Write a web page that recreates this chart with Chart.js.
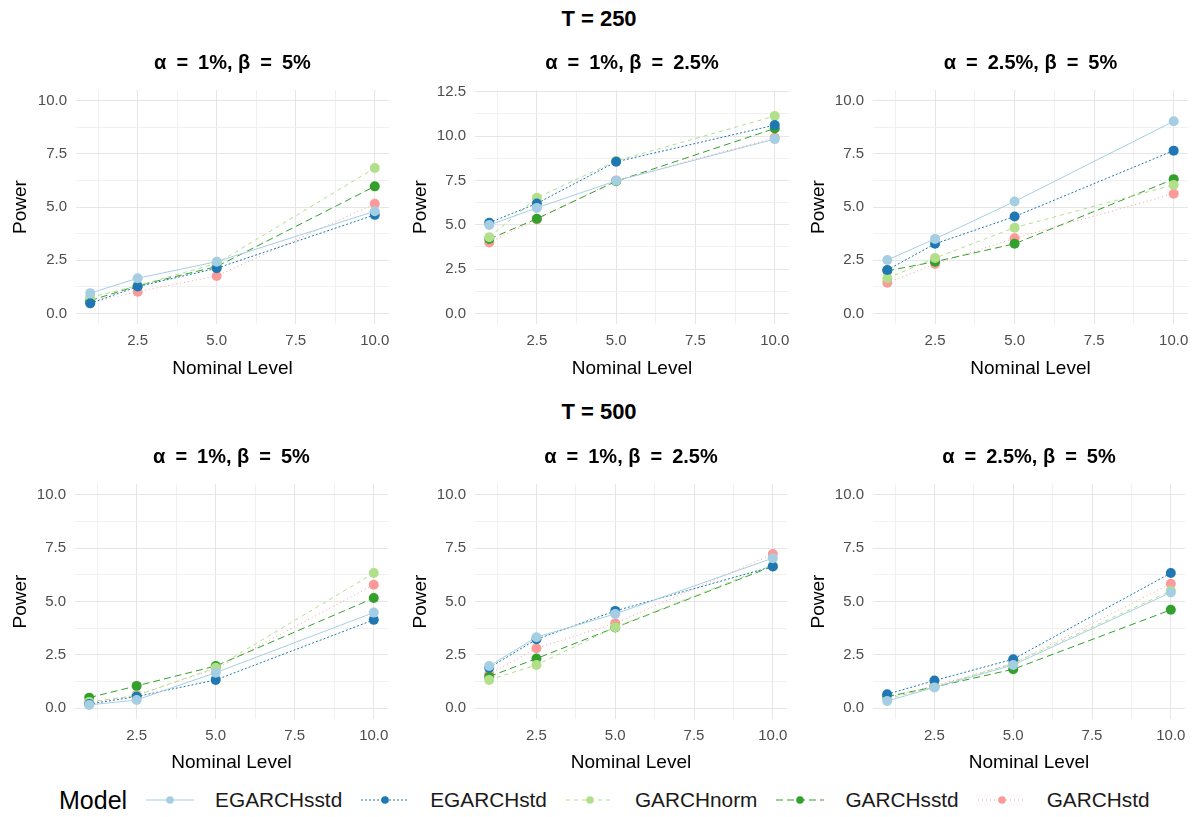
<!DOCTYPE html>
<html lang="en">
<head>
<meta charset="UTF-8">
<title>Power by nominal level</title>
<style>
  body { margin: 0; background: #fff; font-family: "Liberation Sans", Arial, sans-serif; }
  #page { position: relative; width: 1198px; height: 817px; overflow: hidden; }
  .heading { position: absolute; left: 0; width: 1198px; text-align: center; font-weight: bold;
             font-size: 22px; line-height: 26px; color: #000; }
  canvas { position: absolute; }
  #legend { position: absolute; left: 59px; top: 783px; height: 34px; display: flex; align-items: center; color: #1a1a1a; }
  #legend .name { font-size: 25px; margin-right: 19px; color: #000; }
  #legend .key { width: 48px; height: 20px; margin-right: 21px; }
  #legend .text { font-size: 20.8px; margin-right: 19px; }
</style>
</head>
<body>
<div id="page">
  <div class="heading" style="top:6px">T = 250</div>
  <div class="heading" style="top:399px">T = 500</div>
  <div id="legend"><span class="name">Model</span></div>
</div>

<script src="https://cdn.jsdelivr.net/npm/chart.js@4.4.7/dist/chart.umd.min.js"></script>
<script>
// データ
const levels = [1, 2.5, 5, 10];
const models = ['EGARCHsstd', 'EGARCHstd', 'GARCHnorm', 'GARCHsstd', 'GARCHstd'];
const panelTitles = ['α\u2002=\u20021%, β\u2002=\u20025%', 'α\u2002=\u20021%, β\u2002=\u20022.5%', 'α\u2002=\u20022.5%, β\u2002=\u20025%'];
const xTicks = [2.5, 5, 7.5, 10];
const yTicks10 = [0, 2.5, 5, 7.5, 10];
const yTicks125 = [0, 2.5, 5, 7.5, 10, 12.5];

// rows follow the order of models
const t250A1B5 = [
  [0.95, 1.65, 2.43, 4.8],
  [0.47, 1.26, 2.12, 4.63],
  [0.75, 1.3, 2.35, 6.83],
  [0.6, 1.3, 2.2, 5.97],
  [0.5, 1.02, 1.76, 5.15]
];
const t250A1B25 = [
  [4.98, 5.95, 7.48, 9.83],
  [5.11, 6.2, 8.55, 10.62],
  [4.3, 6.52, 8.6, 11.13],
  [4.19, 5.34, 7.45, 10.43],
  [4.0, 5.3, 7.5, 9.9]
];
const t250A25B5 = [
  [2.51, 3.5, 5.26, 9.03],
  [2.04, 3.27, 4.55, 7.65],
  [1.65, 2.6, 4.03, 6.04],
  [2.0, 2.43, 3.27, 6.31],
  [1.44, 2.32, 3.53, 5.62]
];
const t500A1B5 = [
  [0.16, 0.39, 1.67, 4.48],
  [0.2, 0.55, 1.33, 4.14],
  [0.3, 0.6, 1.9, 6.33],
  [0.5, 1.05, 1.98, 5.16],
  [0.25, 0.63, 1.85, 5.78]
];
const t500A1B25 = [
  [1.98, 3.33, 4.42, 7.03],
  [1.9, 3.23, 4.56, 6.64],
  [1.33, 2.03, 3.8, 6.7],
  [1.48, 2.33, 3.78, 6.65],
  [1.6, 2.81, 3.98, 7.22]
];
const t500A25B5 = [
  [0.34, 0.98, 2.03, 5.42],
  [0.66, 1.3, 2.3, 6.33],
  [0.45, 1.0, 2.1, 5.5],
  [0.55, 1.0, 1.83, 4.61],
  [0.5, 1.05, 2.1, 5.83]
];

// 見た目
const FONT = '"Liberation Sans", Arial, sans-serif';
const colors = ['#a6cee3', '#1f78b4', '#b2df8a', '#33a02c', '#fb9a99'];
const dashes = [[], [2, 2], [4, 4], [7, 4], [1, 3]];

// add minor ticks halfway between the major ones
function withMinor(major) {
  const out = [];
  major.forEach((v, i) => {
    const step = i > 0 ? v - major[i - 1] : major[1] - major[0];
    out.push(v - step / 2, v);
  });
  return out;
}
const isMajor = (v, major) => major.some(m => Math.abs(m - v) < 1e-6);

const panels = [
  { rows: t250A1B5, title: panelTitles[0], yTicks: yTicks10, left: 0, top: 40, w: 398, yw: 76, pr: 9, xh: 56 },
  { rows: t250A1B25, title: panelTitles[1], yTicks: yTicks125, left: 400, top: 40, w: 398, yw: 75, pr: 9, xh: 56 },
  { rows: t250A25B5, title: panelTitles[2], yTicks: yTicks10, left: 798, top: 40, w: 400, yw: 75, pr: 10, xh: 56 },
  { rows: t500A1B5, title: panelTitles[0], yTicks: yTicks10, left: 0, top: 434, w: 398, yw: 75, pr: 10, xh: 55 },
  { rows: t500A1B25, title: panelTitles[1], yTicks: yTicks10, left: 400, top: 434, w: 398, yw: 75, pr: 11, xh: 55 },
  { rows: t500A25B5, title: panelTitles[2], yTicks: yTicks10, left: 798, top: 434, w: 400, yw: 75, pr: 13, xh: 55 }
];

const page = document.getElementById('page');

panels.forEach(p => {
  const canvas = document.createElement('canvas');
  canvas.width = p.w;
  canvas.height = 340;
  canvas.style.left = p.left + 'px';
  canvas.style.top = p.top + 'px';
  page.appendChild(canvas);

  // ggplot style: limits 0..max(10, ceil(data)) with 5% expansion
  const yTop = Math.max(10, Math.ceil(Math.max(...p.rows.flat())));
  const yPad = yTop * 0.05;
  const xPad = (levels[levels.length - 1] - levels[0]) * 0.05;
  const xGrid = withMinor(xTicks);
  const yGrid = withMinor(p.yTicks).filter(v => v >= -yPad && v <= yTop + yPad);

  const gridColor = major => ctx => isMajor(ctx.tick.value, major) ? '#e6e6e6' : '#f0f0f0';

  new Chart(canvas, {
    type: 'line',
    data: {
      datasets: models.map((m, i) => ({
        label: m,
        data: levels.map((x, j) => ({ x: x, y: p.rows[i][j] })),
        borderColor: colors[i],
        backgroundColor: colors[i],
        borderWidth: 1,
        borderDash: dashes[i],
        pointRadius: 5,
        pointBorderWidth: 0,
        pointHoverRadius: 5,
        tension: 0
      }))
    },
    options: {
      responsive: false,
      animation: false,
      devicePixelRatio: 1,
      events: [],
      layout: { padding: { left: 0, right: p.pr, top: 0, bottom: 0 } },
      plugins: {
        legend: { display: false },
        tooltip: { enabled: false },
        title: {
          display: true,
          text: p.title,
          fullSize: false,
          color: '#000',
          font: { family: FONT, size: 20, weight: 'bold' },
          padding: { top: 11, bottom: 15 }
        }
      },
      scales: {
        x: {
          type: 'linear',
          min: levels[0] - xPad,
          max: levels[levels.length - 1] + xPad,
          border: { display: false },
          grid: { color: gridColor(xTicks), lineWidth: 1, drawTicks: false },
          afterBuildTicks: ax => { ax.ticks = xGrid.map(v => ({ value: v })); },
          ticks: {
            autoSkip: false,
            maxRotation: 0,
            padding: 8,
            color: '#4d4d4d',
            font: { family: FONT, size: 15 },
            callback: v => isMajor(v, xTicks) ? v.toFixed(1) : ''
          },
          title: { display: true, text: 'Nominal Level', color: '#000', font: { family: FONT, size: 19 }, padding: { top: 6, bottom: 0 } },
          afterFit: s => { s.height = p.xh; s.paddingLeft = 0; s.paddingRight = 0; }
        },
        y: {
          type: 'linear',
          min: -yPad,
          max: yTop + yPad,
          border: { display: false },
          grid: { color: gridColor(p.yTicks), lineWidth: 1, drawTicks: false },
          afterBuildTicks: ax => { ax.ticks = yGrid.map(v => ({ value: v })); },
          ticks: {
            autoSkip: false,
            padding: 9,
            color: '#4d4d4d',
            font: { family: FONT, size: 15 },
            callback: v => isMajor(v, p.yTicks) ? v.toFixed(1) : ''
          },
          title: { display: true, text: 'Power', color: '#000', font: { family: FONT, size: 19 }, padding: { top: 9, bottom: 0 } },
          afterFit: s => { s.width = p.yw; s.paddingTop = 0; s.paddingBottom = 0; }
        }
      }
    }
  });
});

// 凡例
const legend = document.getElementById('legend');
const svgNS = 'http://www.w3.org/2000/svg';
models.forEach((m, i) => {
  const svg = document.createElementNS(svgNS, 'svg');
  svg.setAttribute('class', 'key');
  svg.setAttribute('viewBox', '0 0 48 20');
  const line = document.createElementNS(svgNS, 'line');
  line.setAttribute('x1', 0); line.setAttribute('x2', 48);
  line.setAttribute('y1', 10); line.setAttribute('y2', 10);
  line.setAttribute('stroke', colors[i]);
  line.setAttribute('stroke-width', 1.2);
  if (dashes[i].length) line.setAttribute('stroke-dasharray', dashes[i].join(' '));
  const dot = document.createElementNS(svgNS, 'circle');
  dot.setAttribute('cx', 24); dot.setAttribute('cy', 10); dot.setAttribute('r', 3.8);
  dot.setAttribute('fill', colors[i]);
  svg.appendChild(line);
  svg.appendChild(dot);
  legend.appendChild(svg);
  const text = document.createElement('span');
  text.className = 'text';
  text.textContent = m;
  legend.appendChild(text);
});
</script>
</body>
</html>
